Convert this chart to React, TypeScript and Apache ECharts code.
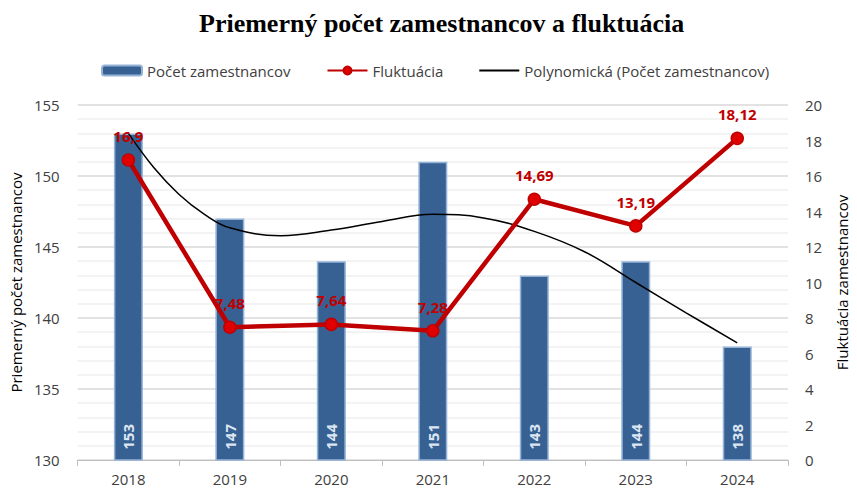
import React, { useEffect, useRef } from "react";
import * as echarts from "echarts";

const categories = ["2018", "2019", "2020", "2021", "2022", "2023", "2024"];
const employees = [153, 147, 144, 151, 143, 144, 138];
const fluctuation = [16.9, 7.48, 7.64, 7.28, 14.69, 13.19, 18.12];
// trendline points (x in category index units, 0 = 2018)
const trendX = [0, 0.25, 0.5, 0.75, 1, 1.5, 2, 2.5, 3, 3.5, 4, 4.5, 5, 5.5, 6];
const trendY = [153.0, 150.6, 148.7, 147.3, 146.35, 145.8, 146.2, 146.8, 147.3, 147.05, 146.1, 144.65, 142.5, 140.35, 138.25];

const FONT = "'Open Sans', 'DejaVu Sans', sans-serif";

export default function App() {
  const ref = useRef<HTMLDivElement>(null);
  useEffect(() => {
    document.body.style.margin = "0";
    if (!ref.current) return;
    const chart = echarts.init(ref.current, undefined, { renderer: "svg" });
    chart.setOption({
      animation: false,
      backgroundColor: "#ffffff",
      textStyle: { fontFamily: FONT },
      title: {
        text: "Priemerný počet zamestnancov a fluktuácia",
        left: 194,
        top: 5,
        textStyle: {
          fontFamily: "'Liberation Serif', 'DejaVu Serif', serif",
          fontWeight: "bold",
          fontSize: 26,
          color: "#000000",
        },
      },
      legend: {
        top: 58,
        left: 96,
        itemWidth: 40,
        itemHeight: 10,
        itemGap: 36,
        textStyle: { fontFamily: FONT, fontSize: 15, color: "#404040" },
        data: [
          { name: "Počet zamestnancov" },
          { name: "Fluktuácia" },
          {
            name: "Polynomická (Počet zamestnancov)",
            icon: "path://M0,0h40v2h-40z",
            itemStyle: { color: "#000000" },
          },
        ],
      },
      grid: { left: 77, right: 59, top: 105, bottom: 30 },
      xAxis: [
        {
          type: "category",
          data: categories,
          axisLine: { show: true, lineStyle: { color: "#bfbfbf", width: 1 } },
          axisTick: { show: true, length: 6, lineStyle: { color: "#bfbfbf" } },
          axisLabel: { fontFamily: FONT, fontSize: 15, color: "#404040", margin: 11 },
        },
        {
          type: "value",
          min: -0.5,
          max: 6.5,
          show: false,
        },
      ],
      yAxis: [
        {
          type: "value",
          min: 130,
          max: 155,
          interval: 5,
          name: "Priemerný počet zamestnancov",
          nameLocation: "middle",
          nameGap: 52,
          nameTextStyle: { fontFamily: FONT, fontSize: 15, color: "#000000" },
          axisLine: { show: false },
          axisTick: { show: false },
          axisLabel: { fontFamily: FONT, fontSize: 15, color: "#404040", margin: 18 },
          splitLine: { show: true, lineStyle: { color: "#d9d9d9", width: 1.5 } },
          minorTick: { show: false, splitNumber: 5 },
          minorSplitLine: { show: true, lineStyle: { color: "#efefef", width: 1.5 } },
        },
        {
          type: "value",
          min: 0,
          max: 20,
          interval: 2,
          name: "Fluktuácia zamestnancov",
          nameLocation: "middle",
          nameGap: 46,
          nameRotate: 90,
          nameTextStyle: { fontFamily: FONT, fontSize: 15, color: "#000000" },
          axisLine: { show: false },
          axisTick: { show: false },
          axisLabel: { fontFamily: FONT, fontSize: 15, color: "#404040", margin: 17 },
          splitLine: { show: false },
        },
      ],
      series: [
        {
          name: "Počet zamestnancov",
          type: "bar",
          data: employees,
          xAxisIndex: 0,
          yAxisIndex: 0,
          barWidth: 29,
          z: 2,
          itemStyle: { color: "#376192", borderColor: "#95b3d7", borderWidth: 1.5 },
          label: {
            show: true,
            position: "insideBottom",
            rotate: 90,
            distance: 11,
            align: "left",
            verticalAlign: "middle",
            fontFamily: FONT,
            fontSize: 15,
            fontWeight: "bold",
            color: "#dce6f2",
          },
        },
        {
          name: "Polynomická (Počet zamestnancov)",
          type: "line",
          xAxisIndex: 1,
          yAxisIndex: 0,
          data: trendX.map((x, i) => [x, trendY[i]]),
          smooth: 0.4,
          symbol: "none",
          z: 3,
          lineStyle: { color: "#000000", width: 1.5 },
          itemStyle: { color: "#000000" },
        },
        {
          name: "Fluktuácia",
          type: "line",
          xAxisIndex: 0,
          yAxisIndex: 1,
          data: fluctuation,
          symbol: "circle",
          symbolSize: 12,
          z: 4,
          lineStyle: { color: "#c00000", width: 4.5 },
          itemStyle: { color: "#e00000", borderColor: "#c00000", borderWidth: 1.5 },
          label: {
            show: true,
            position: "top",
            distance: 10,
            fontFamily: FONT,
            fontSize: 15,
            fontWeight: "bold",
            color: "#c00000",
            formatter: (p: any) => String(p.value).replace(".", ","),
          },
        },
      ],
    });
    return () => chart.dispose();
  }, []);
  return <div ref={ref} style={{ width: 857, height: 490 }} />;
}
